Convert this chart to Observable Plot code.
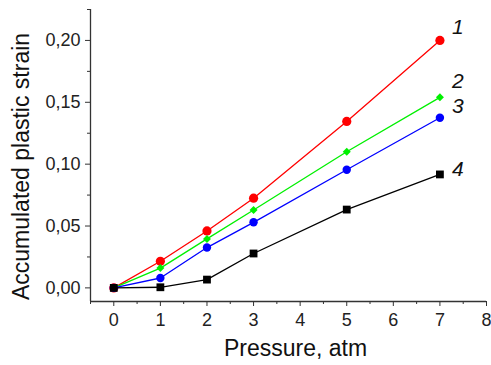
<!DOCTYPE html>
<html>
<head>
<meta charset="utf-8">
<script src="https://cdn.jsdelivr.net/npm/d3@7"></script>
<script src="https://cdn.jsdelivr.net/npm/@observablehq/plot@0.6"></script>
<style>
  html, body { margin: 0; padding: 0; background: #fff; }
  #chart { width: 491px; height: 365px; }
</style>
</head>
<body>
<div id="chart"></div>
<script>
// ---- data ----
const pressure = [0, 1, 2, 3, 5, 7];
const series1 = [0, 0.0215, 0.046, 0.0725, 0.1345, 0.200];
const series2 = [0, 0.016, 0.0396, 0.063, 0.110, 0.154];
const series3 = [0, 0.008, 0.0326, 0.053, 0.0955, 0.1375];
const series4 = [0, 0.0005, 0.0067, 0.0278, 0.0633, 0.0917];
const seriesNames = ["1", "2", "3", "4"];
const xTicks = [0, 1, 2, 3, 4, 5, 6, 7, 8];
const xMinorTicks = [-0.5, 0.5, 1.5, 2.5, 3.5, 4.5, 5.5, 6.5, 7.5];
const yTicks = [0, 0.05, 0.10, 0.15, 0.20];
const yMinorTicks = [0.025, 0.075, 0.125, 0.175, 0.225];
const xLabel = "Pressure, atm";
const yLabel = "Accumulated plastic strain";

// ---- styling (not data) ----
const styles = [
  {color: "#ff0000", symbol: "circle", r: 4.6, labelDy: -13},
  {color: "#00f000", symbol: "diamond2", r: 3.6, labelDy: -16},
  {color: "#0000ff", symbol: "circle", r: 4.2, labelDy: -11},
  {color: "#000000", symbol: "square", r: 4.4, labelDy: -5}
];
const allSeries = [series1, series2, series3, series4];
const xDomain = [-0.5, 8];
const yDomain = [-0.011, 0.225];
const font = "'Liberation Sans', Arial, sans-serif";
const axisColor = "#333";

const marks = [];
allSeries.forEach((vals, i) => {
  const rows = pressure.map((p, j) => ({p, v: vals[j]}));
  const s = styles[i];
  marks.push(Plot.line(rows, {x: "p", y: "v", stroke: s.color, strokeWidth: 1.3}));
  marks.push(Plot.dot(rows, {x: "p", y: "v", fill: s.color, stroke: "none", symbol: s.symbol, r: s.r}));
  const last = rows[rows.length - 1];
  marks.push(Plot.text([last], {
    x: "p", y: "v", text: () => seriesNames[i], dx: 12, dy: s.labelDy,
    textAnchor: "start", fontStyle: "italic", fontSize: 21, fill: "#111"
  }));
});

const chart = Plot.plot({
  width: 491,
  height: 365,
  marginLeft: 90,
  marginRight: 5,
  marginTop: 9,
  marginBottom: 64,
  style: {fontFamily: font, fontSize: "18px", color: "#222", background: "#fff"},
  x: {domain: xDomain, axis: null},
  y: {domain: yDomain, axis: null},
  marks: [
    Plot.ruleX([xDomain[0]], {stroke: axisColor, strokeWidth: 1.3}),
    Plot.ruleY([yDomain[0]], {stroke: axisColor, strokeWidth: 1.3}),
    Plot.axisX({ticks: xTicks, tickSize: 5, tickPadding: 7, tickFormat: d => String(d), label: null, stroke: axisColor, fill: "#222"}),
    Plot.axisX({ticks: xMinorTicks, tickSize: 3, tickFormat: () => "", label: null, stroke: axisColor}),
    Plot.axisY({ticks: yTicks, tickSize: 5, tickPadding: 5, tickFormat: d => d.toFixed(2).replace(".", ","), label: null, stroke: axisColor, fill: "#222"}),
    Plot.axisY({ticks: yMinorTicks, tickSize: 3, tickFormat: () => "", label: null, stroke: axisColor}),
    Plot.text([xLabel], {text: d => d, frameAnchor: "bottom", textAnchor: "middle", lineAnchor: "top", dx: 7, dy: 38, fontSize: 23, fill: "#111"}),
    Plot.text([yLabel], {text: d => d, frameAnchor: "left", textAnchor: "middle", lineAnchor: "top", rotate: -90, dx: -78, dy: 11, fontSize: 23, fill: "#111"}),
    ...marks
  ]
});
document.getElementById("chart").appendChild(chart);
</script>
</body>
</html>
